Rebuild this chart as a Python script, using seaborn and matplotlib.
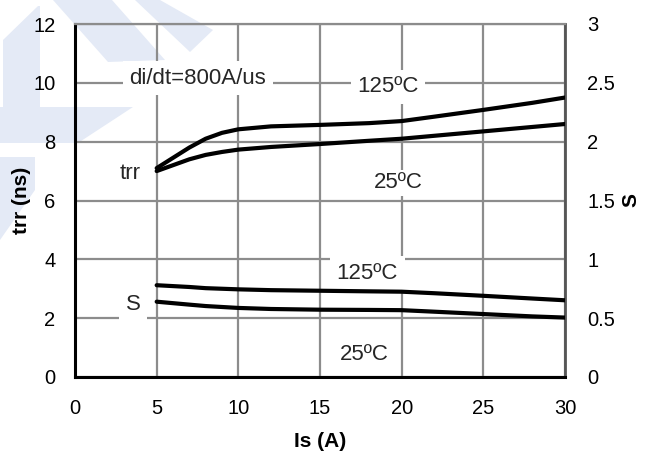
import numpy as np
import pandas as pd
import seaborn as sns
import matplotlib
matplotlib.use("Agg")
import matplotlib.pyplot as plt
from matplotlib.patches import Polygon

# ---- data ----
x_trr = [5, 6, 7, 8, 9, 10, 12, 15, 18, 20, 22, 25, 28, 30]
trr_125 = [7.1, 7.45, 7.8, 8.1, 8.3, 8.42, 8.52, 8.57, 8.63, 8.7, 8.85, 9.08, 9.32, 9.5]
trr_25 = [7.0, 7.2, 7.4, 7.55, 7.65, 7.73, 7.82, 7.92, 8.03, 8.1, 8.2, 8.35, 8.5, 8.6]

x_s = [5, 7, 8, 10, 12, 15, 18, 20, 22, 25, 28, 30]
s_125 = [0.78, 0.765, 0.755, 0.745, 0.738, 0.733, 0.728, 0.725, 0.712, 0.69, 0.667, 0.652]
s_25 = [0.64, 0.615, 0.603, 0.587, 0.578, 0.572, 0.57, 0.568, 0.555, 0.535, 0.515, 0.505]

x_ticks = [0, 5, 10, 15, 20, 25, 30]
y_ticks_left = [0, 2, 4, 6, 8, 10, 12]
y_ticks_right = [0, 0.5, 1, 1.5, 2, 2.5, 3]
y_ticklabels_right = ["0", "0.5", "1", "1.5", "2", "2.5", "3"]

sns.set_theme(style="white")
plt.rcParams["font.family"] = ["Liberation Sans", "DejaVu Sans"]

W, H = 654, 459
fig = plt.figure(figsize=(W / 100, H / 100), dpi=100)
fig.patch.set_facecolor("white")

# watermark (light blue logo shapes), pixel coords
wm_color = "#e4eaf6"
shapes = [
    [(53, 0), (112, 0), (165, 60), (108, 62)],
    [(135, 0), (160, 0), (213, 30), (190, 52)],
    [(3, 40), (38, 6), (40, 6), (40, 107), (133, 107), (78, 143), (0, 143), (0, 107), (3, 107)],
    [(0, 157), (35, 157), (35, 190), (0, 240)],
]
for sh in shapes:
    pts = [(px / W, 1 - py / H) for px, py in sh]
    fig.patches.append(Polygon(pts, closed=True, transform=fig.transFigure,
                               facecolor=wm_color, edgecolor="none", zorder=-5))

left, right, top, bottom = 75 / W, 565 / W, 1 - 24 / H, 1 - 377 / H
ax = fig.add_axes([left, bottom, right - left, top - bottom])
ax.set_facecolor("none")

sns.lineplot(x=x_trr, y=trr_125, ax=ax, color="black", linewidth=3.0, zorder=5)
sns.lineplot(x=x_trr, y=trr_25, ax=ax, color="black", linewidth=3.0, zorder=5)

ax.set_xlim(0, 30)
ax.set_ylim(0, 12)
ax.set_xticks(x_ticks)
ax.set_yticks(y_ticks_left)
ax.set_xticklabels([str(v) for v in x_ticks])
ax.set_yticklabels([str(v) for v in y_ticks_left])
ax.grid(True, color="#8c8c8c", linewidth=1.6)
ax.set_axisbelow(True)
tick_fs = 14.5
ax.tick_params(axis="both", length=0, labelsize=tick_fs, colors="black")
ax.tick_params(axis="y", pad=14)
ax.tick_params(axis="x", pad=16)

for s in ["left", "bottom"]:
    ax.spines[s].set_color("black")
    ax.spines[s].set_linewidth(2.2)
ax.spines["top"].set_color("#8c8c8c")
ax.spines["top"].set_linewidth(1.6)
ax.spines["right"].set_color("#555555")
ax.spines["right"].set_linewidth(2.0)

lab_fs = 15
ax.set_xlabel("Is (A)", fontsize=lab_fs, fontweight="bold", color="black")
ax.set_ylabel("trr (ns)", fontsize=lab_fs, fontweight="bold", color="black")
ax.xaxis.set_label_coords(0.5, -0.155)
ax.yaxis.set_label_coords(-0.09, 0.5)

ax2 = ax.twinx()
ax2.set_facecolor("none")
sns.lineplot(x=x_s, y=s_125, ax=ax2, color="black", linewidth=3.0, zorder=5)
sns.lineplot(x=x_s, y=s_25, ax=ax2, color="black", linewidth=3.0, zorder=5)
ax2.set_ylim(0, 3)
ax2.set_yticks(y_ticks_right)
ax2.set_yticklabels(y_ticklabels_right)
ax2.tick_params(axis="y", length=0, labelsize=tick_fs, pad=16, colors="black")
ax2.grid(False)
for s in ax2.spines.values():
    s.set_visible(False)
ax2.set_ylabel("S", fontsize=lab_fs, fontweight="bold", color="black")
ax2.yaxis.set_label_coords(1.115, 0.5)

def box(pad):
    return dict(boxstyle=f"square,pad={pad}", facecolor="white", edgecolor="none")

ann_fs = 16
ax.text(7.53, 10.16, "di/dt=800A/us", ha="center", va="center", fontsize=ann_fs, bbox=box(0.3), zorder=4)
ax.text(19.17, 9.86, "125\u00baC", ha="center", va="center", fontsize=ann_fs, bbox=box(0.3), zorder=4)
ax.text(19.8, 6.6, "25\u00baC", ha="center", va="center", fontsize=ann_fs, bbox=box(0.1), zorder=4)
ax.text(3.37, 6.93, "trr", ha="center", va="center", fontsize=ann_fs, bbox=box(0.2), zorder=4)
ax.text(3.56, 2.45, "S", ha="center", va="center", fontsize=ann_fs, bbox=box(0.3), zorder=4)
ax.text(17.9, 3.53, "125\u00baC", ha="center", va="center", fontsize=ann_fs, bbox=box(0.3), zorder=4)
ax.text(17.7, 0.75, "25\u00baC", ha="center", va="center", fontsize=ann_fs, bbox=box(0.2), zorder=4)

fig.savefig("out.png", dpi=100, facecolor="white")
